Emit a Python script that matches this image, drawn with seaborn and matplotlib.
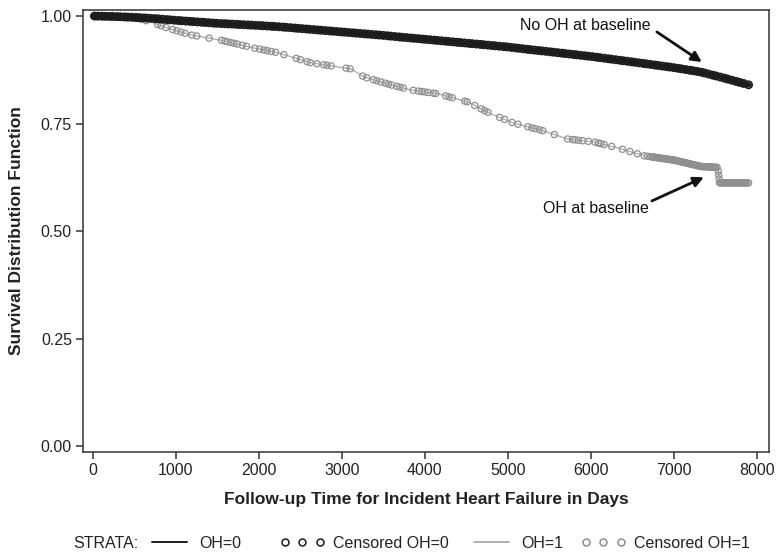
import numpy as np
import pandas as pd
import matplotlib
matplotlib.use("Agg")
import matplotlib.pyplot as plt
from matplotlib.lines import Line2D
import seaborn as sns

# ---------------- data ----------------
oh0_time = [0, 250, 500, 750, 1000, 1500, 2000, 2250, 2500, 3000, 3500, 3710, 4000, 4500,
            5000, 5310, 5500, 6000, 6510, 7000, 7320, 7600, 7900]
oh0_surv = [1.000, 0.999, 0.997, 0.994, 0.990, 0.983, 0.978, 0.975, 0.971, 0.963, 0.955,
            0.951, 0.946, 0.937, 0.928, 0.921, 0.917, 0.906, 0.893, 0.880, 0.870, 0.856, 0.840]

oh1_time = [0, 300, 530, 700, 900, 1180, 1540, 1930, 2220, 2630, 3110, 3270, 3590, 3830,
            4160, 4520, 4800, 5070, 5430, 5720, 6040, 6330, 6640, 7000, 7330, 7530, 7550, 7900]
oh1_surv = [1.000, 0.998, 0.995, 0.986, 0.972, 0.956, 0.944, 0.926, 0.915, 0.891, 0.877,
            0.858, 0.840, 0.828, 0.819, 0.800, 0.772, 0.751, 0.733, 0.714, 0.707, 0.693,
            0.675, 0.665, 0.650, 0.648, 0.612, 0.612]

oh0_censored = [20, 60, 110, 150, 200, 240, 290, 330, 380, 420, 470, 520, 560, 610, 650, 700,
                750, 790, 840, 890, 930, 980, 1030, 1070, 1120, 1170, 1210, 1260, 1310, 1350,
                1400, 1450, 1490, 1540, 1590, 1630, 1680, 1730, 1770, 1820, 1870, 1910, 1960,
                2010, 2050, 2100, 2150, 2190, 2240, 2290, 2330, 2380, 2430, 2470, 2520, 2570,
                2610, 2660, 2710, 2750, 2800, 2850, 2890, 2940, 2990, 3030, 3080, 3130, 3170,
                3220, 3270, 3310, 3360, 3410, 3450, 3500, 3550, 3590, 3640, 3690, 3730, 3780,
                3830, 3870, 3920, 3970, 4010, 4060, 4110, 4150, 4200, 4250, 4290, 4340, 4390,
                4430, 4480, 4530, 4570, 4620, 4670, 4710, 4760, 4810, 4850, 4900, 4950, 4990,
                5040, 5090, 5130, 5180, 5230, 5270, 5320, 5370, 5410, 5460, 5510, 5550, 5600,
                5650, 5690, 5740, 5790, 5830, 5880, 5930, 5970, 6020, 6070, 6110, 6160, 6210,
                6250, 6300, 6350, 6390, 6440, 6490, 6530, 6580, 6630, 6670, 6720, 6770, 6810,
                6860, 6910, 6950, 7000, 7050, 7090, 7140, 7190, 7230, 7280, 7330, 7370, 7420,
                7470, 7510, 7560, 7610, 7650, 7700, 7750, 7790, 7840, 7900]

oh1_censored = [10, 40, 70, 100, 130, 160, 190, 220, 260, 290, 320, 350, 390, 420, 460, 500,
                540, 580, 640, 780, 820, 880, 960, 1010, 1060, 1110, 1190, 1250, 1400, 1550,
                1590, 1620, 1660, 1700, 1740, 1800, 1850, 1950, 2010, 2060, 2100, 2150, 2200,
                2300, 2450, 2500, 2580, 2620, 2700, 2780, 2820, 2870, 3050, 3100, 3250, 3300,
                3380, 3420, 3470, 3520, 3560, 3600, 3660, 3700, 3740, 3860, 3920, 3960, 4000,
                4040, 4100, 4130, 4250, 4290, 4330, 4480, 4510, 4600, 4680, 4720, 4760, 4900,
                4960, 5050, 5120, 5240, 5290, 5330, 5380, 5420, 5560, 5720, 5780, 5810, 5850,
                5900, 5970, 6050, 6090, 6120, 6160, 6250, 6380, 6470, 6560, 6640, 6680, 6720,
                6740, 6755, 6770, 6785, 6800, 6815, 6830, 6845, 6860, 6875, 6890, 6905, 6920,
                6935, 6950, 6965, 6980, 6995, 7010, 7025, 7040, 7055, 7070, 7085, 7100, 7115,
                7130, 7145, 7160, 7175, 7190, 7205, 7220, 7235, 7250, 7265, 7280, 7295, 7310,
                7325, 7340, 7355, 7370, 7385, 7400, 7415, 7430, 7445, 7460, 7475, 7490, 7505,
                7520, 7535, 7540, 7545, 7550, 7565, 7580, 7595, 7610, 7625, 7640, 7655, 7670,
                7685, 7700, 7715, 7730, 7745, 7760, 7775, 7790, 7805, 7820, 7835, 7850, 7865,
                7880, 7900]

x_ticks = [0, 1000, 2000, 3000, 4000, 5000, 6000, 7000, 8000]
y_ticks = [0.00, 0.25, 0.50, 0.75, 1.00]
y_ticklabels = ["0.00", "0.25", "0.50", "0.75", "1.00"]

legend_labels = ["OH=0", "Censored OH=0", "OH=1", "Censored OH=1"]

# ---------------- style ----------------
sns.set_style("ticks")
plt.rcParams["font.family"] = ["Liberation Sans", "DejaVu Sans"]

BLACK = "#1c1c1c"
GRAY_LINE = "#b0b0b0"
GRAY_MARK = "#8f8f8f"
TEXT = "#222222"

fig = plt.figure(figsize=(7.83, 5.57), dpi=100)
ax = fig.add_axes([0.106, 0.1885, 0.876, 0.7935])

df0 = pd.DataFrame({"t": oh0_time, "s": oh0_surv})
df1 = pd.DataFrame({"t": oh1_time, "s": oh1_surv})

sns.lineplot(data=df1, x="t", y="s", color=GRAY_LINE, linewidth=1.0, ax=ax, zorder=2)
sns.lineplot(data=df0, x="t", y="s", color=BLACK, linewidth=3.8, ax=ax, zorder=4)

c0 = pd.DataFrame({"t": oh0_censored,
                   "s": np.interp(oh0_censored, oh0_time, oh0_surv)})
c1 = pd.DataFrame({"t": oh1_censored,
                   "s": np.interp(oh1_censored, oh1_time, oh1_surv)})

sns.scatterplot(data=c1, x="t", y="s", marker="o", s=20, facecolor="none",
                edgecolor=GRAY_MARK, linewidth=0.9, ax=ax, zorder=3)
sns.scatterplot(data=c0, x="t", y="s", marker="o", s=26, facecolor="none",
                edgecolor=BLACK, linewidth=1.3, ax=ax, zorder=5)

ax.set_xlim(-120, 8145)
ax.set_ylim(-0.014, 1.014)
ax.set_xticks(x_ticks)
ax.set_xticklabels([str(v) for v in x_ticks])
ax.set_yticks(y_ticks)
ax.set_yticklabels(y_ticklabels)

for sp in ax.spines.values():
    sp.set_visible(True)
    sp.set_color("#333333")
    sp.set_linewidth(1.1)
ax.tick_params(axis="both", direction="out", length=5, width=1.1, color="#333333",
               labelsize=11.5, labelcolor=TEXT, pad=3)

ax.set_xlabel("Follow-up Time for Incident Heart Failure in Days", fontsize=12.5,
              fontweight="bold", color=TEXT, labelpad=10)
ax.set_ylabel("Survival Distribution Function", fontsize=12.5, fontweight="bold",
              color=TEXT, labelpad=12)

# annotations
arrow_kw = dict(arrowstyle="-|>", color="#111111", lw=2.0, mutation_scale=15,
                shrinkA=0, shrinkB=0)
ax.text(5928, 0.979, "No OH at baseline", fontsize=11.5, ha="center", va="center",
        color="#111111")
ax.annotate("", xy=(7337, 0.893), xytext=(6795, 0.963), arrowprops=arrow_kw)
ax.text(6060, 0.553, "OH at baseline", fontsize=11.5, ha="center", va="center",
        color="#111111")
ax.annotate("", xy=(7361, 0.625), xytext=(6735, 0.570), arrowprops=arrow_kw)

# legend (SAS-style, entries laid out individually)
handles = [
    Line2D([], [], color=BLACK, lw=1.4),
    Line2D([], [], color=BLACK, lw=0, marker="o", markerfacecolor="none",
           markeredgecolor=BLACK, markersize=5, markeredgewidth=1.1),
    Line2D([], [], color=GRAY_LINE, lw=1.4),
    Line2D([], [], color=GRAY_MARK, lw=0, marker="o", markerfacecolor="none",
           markeredgecolor=GRAY_MARK, markersize=5, markeredgewidth=1.1),
]
leg_y = 1 - 543 / 557
x_starts = [147, 280, 469, 581]
for h, lab, xs in zip(handles, legend_labels, x_starts):
    fig.legend([h], [lab], loc="center left", bbox_to_anchor=(xs / 783, leg_y),
               frameon=False, fontsize=11.5, numpoints=3, handlelength=2.8,
               handletextpad=0.5, borderpad=0, borderaxespad=0, labelcolor=TEXT)
fig.text(73 / 783, leg_y, "STRATA:", fontsize=11.5, va="center", ha="left", color=TEXT)

fig.savefig("out.png", dpi=100)
